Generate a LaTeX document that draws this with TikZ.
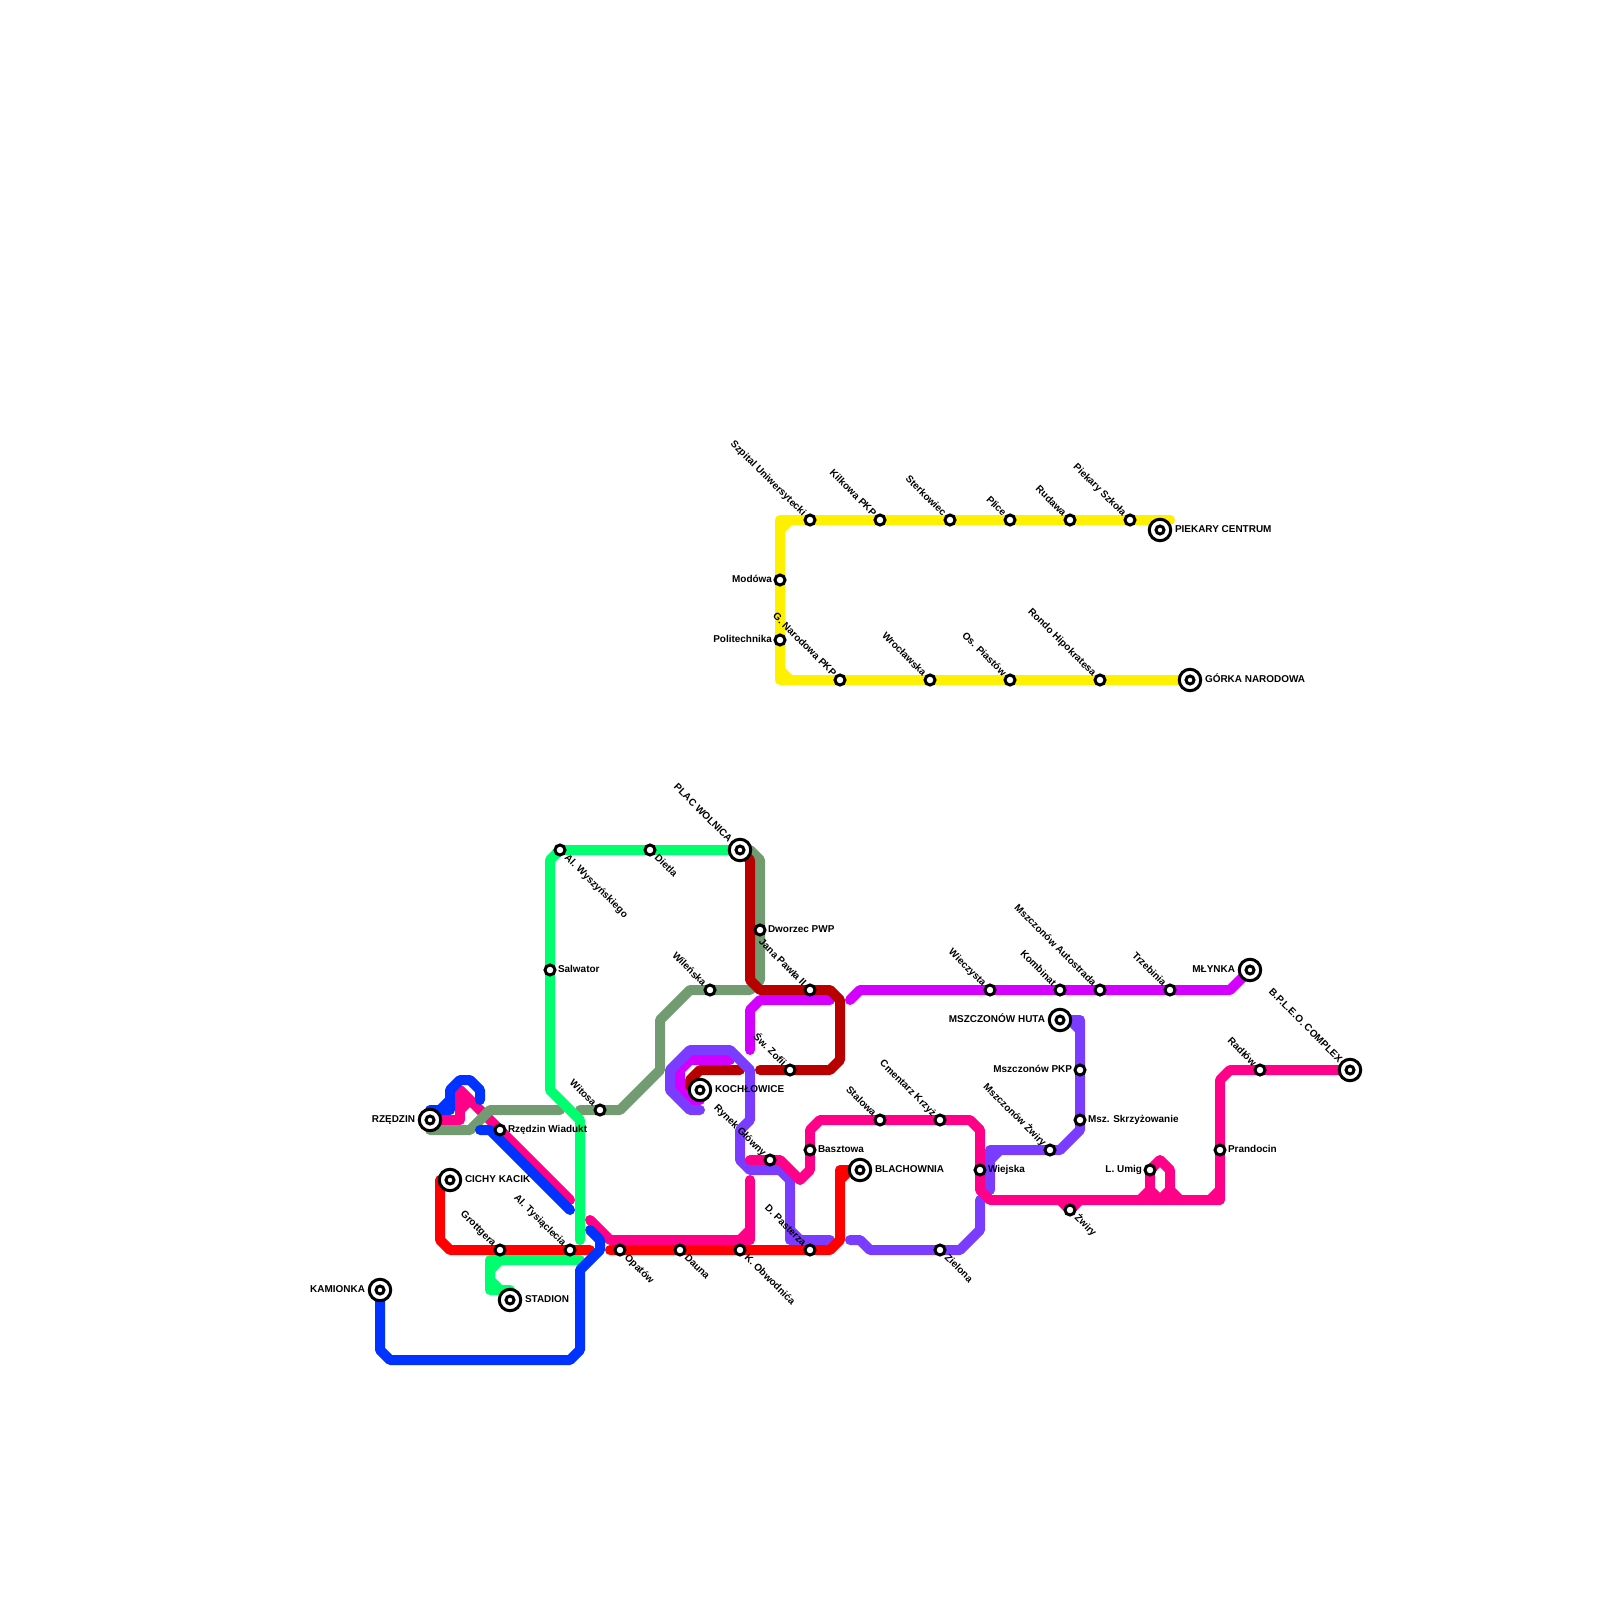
\documentclass[tikz,border=0pt]{standalone}
\usepackage{fontspec}
\setmainfont{Liberation Sans}
\usepackage{xcolor}
\definecolor{lnYellow}{HTML}{FFF000}
\definecolor{lnMagenta}{HTML}{D400FF}
\definecolor{lnPurple}{HTML}{7A3DFF}
\definecolor{lnSage}{HTML}{729B72}
\definecolor{lnPink}{HTML}{FF0088}
\definecolor{lnRed}{HTML}{FF0000}
\definecolor{lnDark}{HTML}{B80000}
\definecolor{lnGreen}{HTML}{00FF6E}
\definecolor{lnBlue}{HTML}{0033FF}
\begin{document}
\begin{tikzpicture}[
  x=1bp, y=-1bp,
  every node/.style={font=\bfseries\fontsize{10}{12}\selectfont, text height=7bp, text depth=2bp, inner sep=0pt, outer sep=0pt},
  tube/.style={line width=10bp, line cap=round, line join=round},
  stn/.style={circle, draw=black, fill=white, line width=3bp, minimum size=10bp, text height=, text depth=},
  hub/.style={circle, draw=black, fill=white, line width=3bp, minimum size=21.5bp, text height=, text depth=},
  hubin/.style={circle, draw=black, fill=white, line width=3bp, minimum size=8bp, text height=, text depth=},
  lblr/.style={anchor=west, xshift=8bp},
  lbll/.style={anchor=east, xshift=-8bp},
  hublr/.style={anchor=west, xshift=15bp},
  hubll/.style={anchor=east, xshift=-15bp},
  lblul/.style={anchor=east, xshift=-6bp, yshift=5bp, rotate=-45},
  hubul/.style={anchor=east, xshift=-10bp, yshift=9bp, rotate=-45},
  lbldr/.style={anchor=west, xshift=6bp, yshift=-6.5bp, rotate=-45}
]
  \useasboundingbox (0,0) rectangle (1600,1600);
  % ---- station positions ----
  \foreach \nm/\px/\py in {szpital/810/520, kilkowa/880/520, sterkowiec/950/520, plice/1010/520, rudawa/1070/520,
      szkola/1130/520, pcentrum/1160/530, modowa/780/580, polit/780/640, narodowa/840/680, wroclaw/930/680,
      piastow/1010/680, rondo/1100/680, gorka/1190/680, kamionka/380/1290, rzedzin/430/1120, kacik/450/1180,
      wiadukt/500/1130, grottgera/500/1250, tysiac/570/1250, stadion/510/1300, opatow/620/1250, dauna/680/1250,
      obwod/740/1250, pasterza/810/1250, zielona/940/1250, witosa/600/1110, wysz/560/850, dietla/650/850,
      wolnica/740/850, salwator/550/970, dworzec/760/930, wilenska/710/990, jana/810/990, zofii/790/1070,
      kochl/700/1090, rynek/770/1160, baszt/810/1150, blach/860/1170, stalowa/880/1120, cmentarz/940/1120,
      wieczysta/990/990, kombinat/1060/990, autostr/1100/990, trzebinia/1170/990, mlynka/1250/970, huta/1060/1020,
      mpkp/1080/1070, skrzyz/1080/1120, mzwiry/1050/1150, wiejska/980/1170, umig/1150/1170, zwiry/1070/1210,
      prandocin/1220/1150, radlow/1260/1070, complex/1350/1070}
    \coordinate (\nm) at (\px,\py);
  % ---- lines ----
  \draw[tube, lnYellow] (pcentrum) -- (1160,520) -- (1170,520) -- (szpital) -- (780,520) -- (780,680) -- (gorka)
        (790,520) -- (780,530) (780,670) -- (790,680);
  \draw[tube, lnDark] (740,1070) -- (700,1070) -- (690,1080) -- (690,1090) -- (kochl);
  \draw[tube, lnMagenta] (750,1050) -- (750,1010) -- (760,1000) -- (830,1000);
  \draw[tube, lnMagenta] (850,1000) -- (860,990) -- (1230,990) -- (mlynka);
  \draw[tube, lnMagenta] (730,1060) -- (690,1060) -- (680,1070) -- (680,1090) -- (690,1100) -- (700,1100);
  \draw[tube, lnPurple] (700,1110) -- (690,1110) -- (670,1090) -- (670,1070) -- (690,1050) -- (730,1050) -- (750,1070)
        -- (750,1120) -- (740,1130) -- (740,1160) -- (750,1170) -- (780,1170) -- (790,1180) -- (790,1240) -- (830,1240)
        (790,1230) -- (800,1240);
  \draw[tube, lnPurple] (850,1240) -- (860,1240) -- (870,1250) -- (zielona) -- (960,1250) -- (980,1230) -- (980,1200);
  \draw[tube, lnPurple] (990,1190) -- (990,1150) -- (mzwiry) -- (1060,1150) -- (1080,1130) -- (skrzyz) -- (mpkp)
        -- (1080,1020) -- (huta) (990,1160) -- (1000,1150) (1070,1020) -- (1080,1030);
  \draw[tube, lnPink] (rzedzin) -- (460,1120) -- (460,1090) -- (wiadukt) -- (570,1200) (470,1100) -- (460,1110);
  \draw[tube, lnPink] (590,1220) -- (610,1240) -- (750,1240) -- (750,1180) (740,1240) -- (750,1230);
  \draw[tube, lnPink] (750,1160) -- (rynek) -- (780,1160) -- (800,1180) -- (810,1170) -- (810,1130) -- (820,1120)
        -- (970,1120) -- (980,1130) -- (980,1190) -- (990,1200) -- (1220,1200) -- (prandocin) -- (1220,1080)
        -- (1230,1070) -- (complex) (1210,1200) -- (1220,1190);
  \draw[tube, lnPink] (1140,1200) -- (1150,1190) -- (umig) -- (1160,1160) -- (1170,1170) -- (1170,1190) -- (1180,1200)
        (1150,1190) -- (1160,1200) -- (1170,1190);
  \draw[tube, lnPink] (1060,1200) -- (zwiry) -- (1080,1200);
  \draw[tube, lnSage] (rzedzin) -- (430,1130) -- (470,1130) -- (490,1110) -- (560,1110);
  \draw[tube, lnSage] (580,1110) -- (witosa) -- (620,1110) -- (660,1070) -- (660,1020) -- (690,990) -- (wilenska)
        -- (750,990) -- (760,980) -- (dworzec) -- (760,860) -- (750,850) -- (wolnica);
  \draw[tube, lnRed] (kacik) -- (440,1180) -- (440,1240) -- (450,1250) -- (grottgera) -- (tysiac) -- (590,1250);
  \draw[tube, lnRed] (610,1250) -- (opatow) -- (830,1250) -- (840,1240) -- (840,1170) -- (blach) (840,1180) -- (850,1170);
  \draw[tube, lnDark] (wolnica) -- (750,860) -- (750,980) -- (760,990) -- (jana) -- (830,990) -- (840,1000)
        -- (840,1060) -- (830,1070) -- (zofii) -- (760,1070);
  \draw[tube, lnGreen] (wolnica) -- (wysz) -- (550,860) -- (salwator) -- (550,1090) -- (580,1120) -- (580,1240);
  \draw[tube, lnGreen] (580,1260) -- (490,1260) -- (490,1290) -- (510,1290) -- (stadion)
        (500,1260) -- (490,1270) (490,1280) -- (500,1290);
  \draw[tube, lnBlue] (kamionka) -- (380,1350) -- (390,1360) -- (570,1360) -- (580,1350) -- (580,1270) -- (600,1250)
        -- (600,1240) -- (590,1230);
  \draw[tube, lnBlue] (480,1130) -- (490,1130) -- (570,1210);
  \draw[tube, lnBlue] (rzedzin) -- (430,1110) -- (450,1110) -- (450,1090) -- (460,1080) -- (470,1080)
        -- (480,1090) -- (480,1100) (440,1110) -- (450,1100);
  % ---- labels ----
  \foreach \nm/\txt in {szpital/Szpital Uniwersytecki, kilkowa/Kilkowa PKP, sterkowiec/Sterkowiec, plice/Plice, rudawa/Rudawa,
      szkola/Piekary Szkoła, narodowa/G. Narodowa PKP, wroclaw/Wrocławska, piastow/Os. Piastów, rondo/Rondo Hipokratesa,
      grottgera/Grottgera, tysiac/Al. Tysiąclecia, pasterza/D. Pasterza, witosa/Witosa, wilenska/Wileńska, jana/Jana Pawła II,
      zofii/Św. Zofii, rynek/Rynek Główny, stalowa/Stalowa, cmentarz/Cmentarz Krzyż, wieczysta/Wieczysta, kombinat/Kombinat,
      autostr/Mszczonów Autostrada, trzebinia/Trzebinia, mzwiry/Mszczonów Żwiry, radlow/Radłów}
    \node[lblul] (l\nm) at (\nm) {\txt};
  \foreach \nm/\txt in {wolnica/PLAC WOLNICA, complex/B.P.L.E.O. COMPLEX}
    \node[hubul] (l\nm) at (\nm) {\txt};
  \foreach \nm/\txt in {opatow/Opatów, dauna/Dauna, obwod/K. Obwodnića, zielona/Zielona, wysz/Al. Wyszyńskiego, dietla/Dietla, zwiry/Żwiry}
    \node[lbldr] (l\nm) at (\nm) {\txt};
  \foreach \nm/\txt in {wiadukt/Rzędzin Wiadukt, salwator/Salwator, dworzec/Dworzec PWP, baszt/Basztowa, skrzyz/Msz. Skrzyżowanie,
      wiejska/Wiejska, prandocin/Prandocin}
    \node[lblr] (l\nm) at (\nm) {\txt};
  \foreach \nm/\txt in {modowa/Modówa, polit/Politechnika, mpkp/Mszczonów PKP, umig/L. Umig}
    \node[lbll] (l\nm) at (\nm) {\txt};
  \foreach \nm/\txt in {pcentrum/PIEKARY CENTRUM, gorka/GÓRKA NARODOWA, kacik/CICHY KACIK, stadion/STADION, kochl/KOCHŁOWICE, blach/BLACHOWNIA}
    \node[hublr] (l\nm) at (\nm) {\txt};
  \foreach \nm/\txt in {kamionka/KAMIONKA, rzedzin/RZĘDZIN, mlynka/MŁYNKA, huta/MSZCZONÓW HUTA}
    \node[hubll] (l\nm) at (\nm) {\txt};
  % ---- stations ----
  \foreach \nm in {szpital, kilkowa, sterkowiec, plice, rudawa, szkola, modowa, polit, narodowa, wroclaw, piastow, rondo,
      wiadukt, grottgera, tysiac, opatow, dauna, obwod, pasterza, zielona, witosa, wysz, dietla, salwator, dworzec,
      wilenska, jana, zofii, rynek, baszt, stalowa, cmentarz, wieczysta, kombinat, autostr, trzebinia, mpkp, skrzyz,
      mzwiry, wiejska, umig, zwiry, prandocin, radlow}
    \node[stn] (s\nm) at (\nm) {};
  \foreach \nm in {pcentrum, gorka, kamionka, rzedzin, kacik, stadion, wolnica, kochl, blach, mlynka, huta, complex} {
    \node[hub] (s\nm) at (\nm) {};
    \node[hubin] (c\nm) at (\nm) {};
  }
\end{tikzpicture}
\end{document}
